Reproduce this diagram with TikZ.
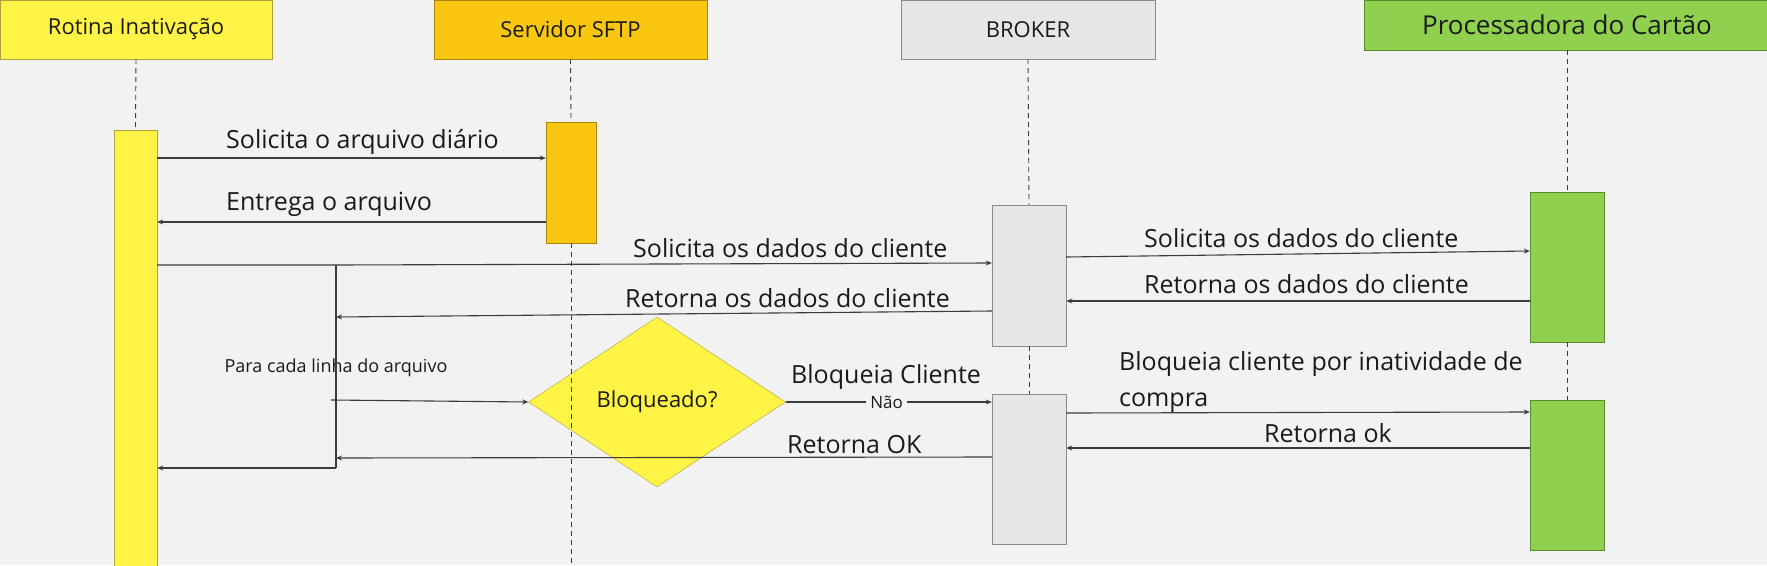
\documentclass[tikz,border=0pt]{standalone}
\usepackage{fontspec}
\setmainfont{Open Sans}
\usetikzlibrary{shapes.geometric,arrows.meta}

\definecolor{fundo}{HTML}{F2F2F2}
\definecolor{amarelo}{HTML}{FFF445}
\definecolor{amareloBorda}{HTML}{ADA23A}
\definecolor{ouro}{HTML}{FAC710}
\definecolor{ouroBorda}{HTML}{A8860E}
\definecolor{cinza}{HTML}{E6E6E6}
\definecolor{cinzaBorda}{HTML}{8C8C8C}
\definecolor{verde}{HTML}{8FD14F}
\definecolor{verdeBorda}{HTML}{5B8A33}
\definecolor{linha}{HTML}{3C3C3C}
\definecolor{texto}{HTML}{1A1A1A}

\begin{document}
\begin{tikzpicture}[x=1pt, y=-1pt]
    \tikzstyle{every node} = [align=center, text=texto]
    \tikzstyle{head} = [draw, inner sep=0pt, minimum height=59pt, font=\fontsize{22}{26}\selectfont]
    \tikzstyle{bar} = [draw, inner sep=0pt]
    \tikzstyle{life} = [draw=linha, line width=0.9pt, dash pattern=on 5pt off 4pt]
    \tikzstyle{msg} = [draw=linha, line width=1.1pt, -{Stealth[length=6pt,width=5pt]}]
    \tikzstyle{lbl} = [anchor=base west, inner sep=0pt, font=\fontsize{25}{36}\selectfont]
    \tikzstyle{small} = [inner sep=0pt, font=\fontsize{18}{22}\selectfont]

    \useasboundingbox (0,0) rectangle (1767,565);
    \clip (0,0) rectangle (1767,565);
    \fill[fundo] (0,0) rectangle (1767,565);

    % participantes
    \node[head, fill=amarelo, draw=amareloBorda, minimum width=272pt] (rot) at (136,29.5) {Rotina Inativação};
    \node[head, fill=ouro, draw=ouroBorda, minimum width=273pt] (sftp) at (570.5,29.5) {Servidor SFTP};
    \node[head, fill=cinza, draw=cinzaBorda, minimum width=254pt] (broker) at (1028,29.5) {BROKER};
    \node[head, fill=verde, draw=verdeBorda, minimum width=406pt, minimum height=50pt,
          font=\fontsize{26}{30}\selectfont] (proc) at (1567,25) {Processadora do Cartão};

    % decisao
    \node[diamond, fill=amarelo, draw=amareloBorda, inner sep=0pt, minimum width=257pt,
          minimum height=170pt, font=\fontsize{22}{26}\selectfont] (dec) at (657,402) {Bloqueado?};

    % ativacoes
    \node[bar, fill=amarelo, draw=amareloBorda, minimum width=43pt, minimum height=445pt] (rotA) at (135.5,352.5) {};
    \node[bar, fill=ouro, draw=ouroBorda, minimum width=50pt, minimum height=121pt] (sftpA) at (571,182.5) {};
    \node[bar, fill=cinza, draw=cinzaBorda, minimum width=74pt, minimum height=141pt] (brkA1) at (1029,275.5) {};
    \node[bar, fill=cinza, draw=cinzaBorda, minimum width=74pt, minimum height=150pt] (brkA2) at (1029,469) {};
    \node[bar, fill=verde, draw=verdeBorda, minimum width=74pt, minimum height=150pt] (procA1) at (1567,267) {};
    \node[bar, fill=verde, draw=verdeBorda, minimum width=74pt, minimum height=150pt] (procA2) at (1567,475) {};

    % linhas de vida
    \draw[life] (rot.south) -- (rotA.north);
    \draw[life] (sftp.south) -- (sftpA.north);
    \draw[life] (sftpA.south) -- (sftpA.south |- 0,565);
    \draw[life] (broker.south) -- (brkA1.north);
    \draw[life] (brkA1.south) -- (brkA2.north);
    \draw[life] (proc.south) -- (procA1.north);
    \draw[life] (procA1.south) -- (procA2.north);

    % laco
    \coordinate (laco1) at (336,265);
    \coordinate (laco2) at (336,468);
    \coordinate (entrada) at (331,400);
    \node[small, anchor=base] (lacoTxt) at (336,372) {Para cada linha do arquivo};
    \draw[draw=linha, line width=1.1pt] (laco1) -- (laco2);

    % mensagens
    \draw[msg] (rotA.east |- 0,158) -- (sftpA.west |- 0,158);
    \node[lbl] (m1) at (226,148) {Solicita o arquivo diário};
    \draw[msg] (sftpA.west |- 0,222) -- (rotA.east |- 0,222);
    \node[lbl] (m2) at (226,210) {Entrega o arquivo};
    \draw[msg] (rotA.east |- laco1) -- (laco1) -- (brkA1.west |- 0,263);
    \node[lbl] (m3) at (633,257) {Solicita os dados do cliente};
    \draw[msg] (brkA1.west |- 0,311) -- (laco1 |- 0,317);
    \node[lbl] (m4) at (625,307) {Retorna os dados do cliente};
    \draw[msg] (entrada) -- (dec.west);
    \draw[msg] (dec.east) -- node[pos=0.49, fill=fundo, inner sep=4pt,
          font=\fontsize{17}{20}\selectfont] (nao) {Não} (brkA2.west |- dec.east);
    \node[lbl] (m5) at (791,383) {Bloqueia Cliente};
    \draw[msg] (brkA2.west |- 0,457) -- (laco1 |- 0,458);
    \node[lbl] (m6) at (787,453) {Retorna OK};
    \draw[msg] (laco2) -- (rotA.east |- laco2);

    \draw[msg] (brkA1.east |- 0,257) -- (procA1.west |- 0,251);
    \node[lbl] (m7) at (1144,247) {Solicita os dados do cliente};
    \draw[msg] (procA1.west |- 0,301) -- (brkA1.east |- 0,301);
    \node[lbl] (m8) at (1144,293) {Retorna os dados do cliente};
    \draw[msg] (brkA2.east |- 0,413) -- (procA2.west |- 0,412);
    \node[lbl, align=left] (m9) at (1119,406) {Bloqueia cliente por inatividade de\\compra};
    \draw[msg] (procA2.west |- 0,448) -- (brkA2.east |- 0,448);
    \node[lbl] (m10) at (1264,442) {Retorna ok};
\end{tikzpicture}
\end{document}
